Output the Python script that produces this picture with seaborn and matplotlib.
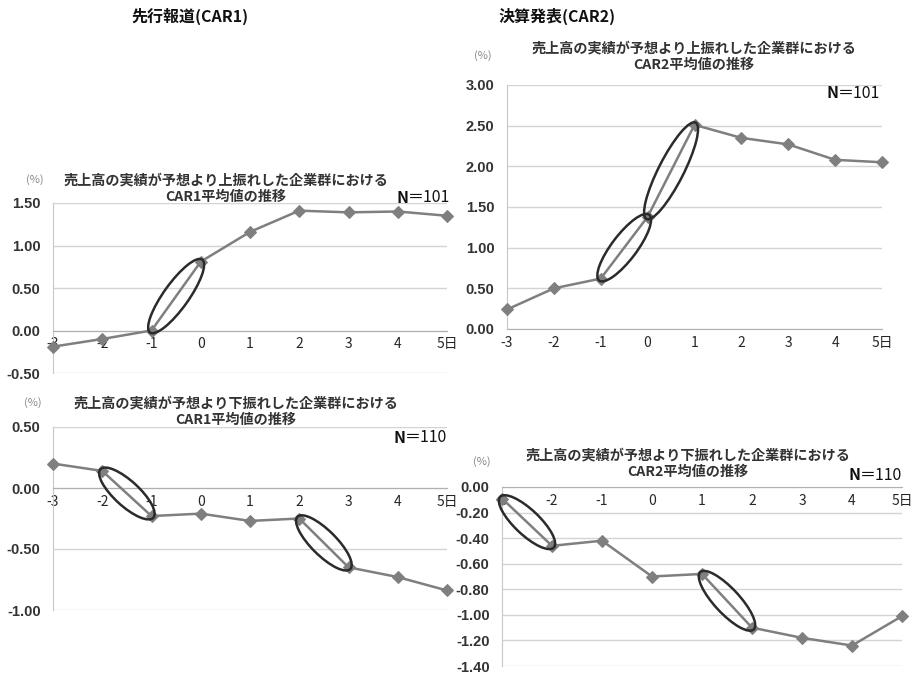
import numpy as np
import pandas as pd
import matplotlib
matplotlib.use("Agg")
import matplotlib.pyplot as plt
import matplotlib.transforms as mtransforms
from matplotlib.patches import Ellipse
import seaborn as sns

# ---------------- data ----------------
days = [-3, -2, -1, 0, 1, 2, 3, 4, 5]
day_labels = ["-3", "-2", "-1", "0", "1", "2", "3", "4", "5日"]

car1_up = [-0.19, -0.10, 0.00, 0.81, 1.16, 1.41, 1.39, 1.40, 1.35]
car2_up = [0.24, 0.50, 0.62, 1.38, 2.51, 2.35, 2.27, 2.08, 2.05]
car1_down = [0.20, 0.14, -0.23, -0.21, -0.27, -0.25, -0.65, -0.73, -0.84]
car2_down = [-0.09, -0.46, -0.42, -0.70, -0.68, -1.10, -1.18, -1.24, -1.01]

header_left = "先行報道(CAR1)"
header_right = "決算発表(CAR2)"
title_up_1 = "売上高の実績が予想より上振れした企業群における\nCAR1平均値の推移"
title_up_2 = "売上高の実績が予想より上振れした企業群における\nCAR2平均値の推移"
title_down_1 = "売上高の実績が予想より下振れした企業群における\nCAR1平均値の推移"
title_down_2 = "売上高の実績が予想より下振れした企業群における\nCAR2平均値の推移"
n_up = "101"
n_down = "110"

# highlighted segments (start day, end day)
hl_up_1 = [(-1, 0)]
hl_up_2 = [(-1, 0), (0, 1)]
hl_down_1 = [(-2, -1), (2, 3)]
hl_down_2 = [(-3, -2), (1, 2)]

# ---------------- style ----------------
sns.set_style("white")
plt.rcParams["font.family"] = ["Noto Sans CJK JP", "DejaVu Sans"]

W, H = 914, 675
fig = plt.figure(figsize=(W / 100, H / 100), dpi=100)
fig.patch.set_facecolor("white")

LINE_C = "#7f7f7f"
GRID_C = "#d4d4d4"
TXT_C = "#333333"


def add_ax(x0, x1, ytop, ybot):
    return fig.add_axes([x0 / W, 1 - ybot / H, (x1 - x0) / W, (ybot - ytop) / H])


def fmt(v):
    v = 0.0 if abs(v) < 1e-9 else v
    return f"{v:.2f}"


def panel(rect, vals, ylim, ystep, segs):
    ax = add_ax(*rect)
    df = pd.DataFrame({"day": days, "car": vals})
    sns.lineplot(data=df, x="day", y="car", ax=ax, color=LINE_C, marker="D",
                 markersize=6.5, markeredgecolor=LINE_C, linewidth=1.8,
                 clip_on=False, zorder=3)
    ax.set_xlim(-3, 5)
    ax.set_ylim(*ylim)
    yt = np.round(np.arange(ylim[0], ylim[1] + ystep / 2, ystep), 2)
    ax.set_yticks(yt)
    ax.set_yticklabels([fmt(v) for v in yt], family="Liberation Sans",
                       fontweight="bold", fontsize=10.5, color=TXT_C)
    ax.set_xticks(days)
    ax.set_xticklabels(day_labels, fontweight="bold", fontsize=10.5, color=TXT_C,
                       family=["Liberation Sans", "Noto Sans CJK JP"])
    ax.set_xlabel("")
    ax.set_ylabel("")
    ax.yaxis.grid(True, color=GRID_C, linewidth=1.0)
    ax.xaxis.grid(False)
    ax.set_axisbelow(True)
    for s in ["top", "right"]:
        ax.spines[s].set_visible(False)
    ax.spines["left"].set_color("#c8c8c8")
    ax.spines["bottom"].set_color("#b0b0b0")
    ax.spines["bottom"].set_position(("data", 0))
    ax.tick_params(axis="x", direction="in", length=4, color="#b0b0b0", pad=5)
    ax.tick_params(axis="y", length=0, pad=9)
    # ellipses around highlighted segments (display coordinates)
    for a, b in segs:
        ia, ib = days.index(a), days.index(b)
        p = ax.transData.transform([(a, vals[ia]), (b, vals[ib])])
        c = p.mean(axis=0)
        d = p[1] - p[0]
        length = np.hypot(*d)
        ang = np.degrees(np.arctan2(d[1], d[0]))
        e = Ellipse(c, width=length + 5, height=25, angle=ang, fill=False,
                    edgecolor="#2b2b2b", linewidth=1.8,
                    transform=mtransforms.IdentityTransform(), zorder=5)
        fig.add_artist(e)
    return ax


panel((53, 447, 203, 373), car1_up, (-0.5, 1.5), 0.5, hl_up_1)
panel((507, 882, 85, 329), car2_up, (0.0, 3.0), 0.5, hl_up_2)
panel((53, 447, 427, 610), car1_down, (-1.0, 0.5), 0.5, hl_down_1)
panel((502, 902, 487, 666), car2_down, (-1.4, 0.0), 0.2, hl_down_2)


def ftext(x, y, s, **kw):
    return fig.text(x / W, 1 - y / H, s, **kw)


# headers
ftext(190, 16, header_left, ha="center", va="center", fontsize=11.5,
      fontweight="bold", color="#111111")
ftext(557, 16, header_right, ha="center", va="center", fontsize=11.5,
      fontweight="bold", color="#111111")

# panel titles
tkw = dict(ha="center", va="center", fontsize=10.2, fontweight="bold",
           color=TXT_C, linespacing=1.2)
ftext(226, 189, title_up_1, **tkw)
ftext(694, 57, title_up_2, **tkw)
ftext(236, 412, title_down_1, **tkw)
ftext(688, 464, title_down_2, **tkw)

# percent units
pkw = dict(ha="center", va="center", fontsize=8, color="#888888")
ftext(35, 180, "(%)", **pkw)
ftext(483, 56, "(%)", **pkw)
ftext(33, 403, "(%)", **pkw)
ftext(482, 462, "(%)", **pkw)

# N labels: bold "N", regular "＝nnn"
renderer = fig.canvas.get_renderer()


def nlabel(xr, y, num):
    t = ftext(xr, y, "＝" + num, ha="right", va="center", fontsize=11.5,
              color="#111111")
    bb = t.get_window_extent(renderer)
    fig.text(bb.x0 / W + 0.001, 1 - y / H, "N", ha="right", va="center",
             fontsize=11.5, fontweight="bold", color="#111111")


nlabel(450, 198, n_up)
nlabel(880, 93, n_up)
nlabel(447, 438, n_down)
nlabel(902, 475, n_down)

fig.savefig("out.png", dpi=100, facecolor="white")
